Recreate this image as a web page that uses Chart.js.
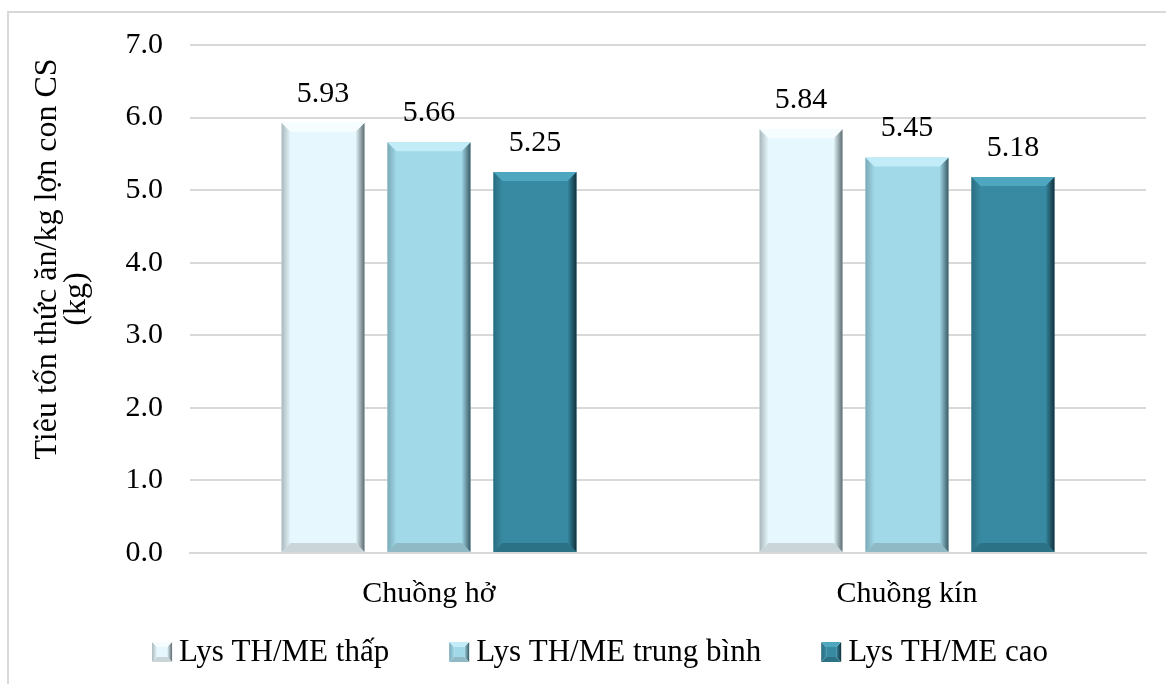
<!DOCTYPE html>
<html>
<head>
<meta charset="utf-8">
<script src="https://cdn.jsdelivr.net/npm/chart.js@4/dist/chart.umd.min.js"></script>
<style>
  html, body { margin: 0; padding: 0; background: #fff; overflow: hidden; }
  #khung { position: absolute; left: 7px; top: 11px; width: 1200px; height: 700px; border: 2px solid #d9d9d9; box-sizing: border-box; }
  #wrap { position: absolute; left: 0; top: 0; width: 1166px; height: 684px; }
</style>
</head>
<body>
<div id="khung"></div>
<div id="wrap"><canvas id="bieuDo" width="1166" height="684"></canvas></div>
<script>
// du lieu
const nhomChuong = ['Chuồng hở', 'Chuồng kín'];
const tenMuc = ['Lys TH/ME thấp', 'Lys TH/ME trung bình', 'Lys TH/ME cao'];
const giaTriThap = [5.93, 5.84];
const giaTriTrungBinh = [5.66, 5.45];
const giaTriCao = [5.25, 5.18];
const tieuDeTrucY = ['Tiêu tốn thức ăn/kg lợn con CS', '(kg)'];

// mau: than, canh tren, canh trai, canh phai, canh duoi
const mauBar = [
  { body: '#e6f8fd', top: '#f6fdff', left: '#a9b7bb', right: '#5d6b70', bottom: '#c9d5d8' },
  { body: '#a1d9e9', top: '#c2ecf7', left: '#7aa9b7', right: '#3a5a64', bottom: '#8fb9c4' },
  { body: '#378aa2', top: '#4ea7bf', left: '#2b6d80', right: '#12313b', bottom: '#2c7286' }
];

const fontChu = "'Liberation Serif', 'Times New Roman', serif";

// ve hinh chu nhat co canh vat
function veHopVat(ctx, l, t, r, b, e, m) {
  const poly = (pts, fill) => {
    ctx.beginPath();
    ctx.moveTo(pts[0][0], pts[0][1]);
    for (let k = 1; k < pts.length; k++) ctx.lineTo(pts[k][0], pts[k][1]);
    ctx.closePath();
    ctx.fillStyle = fill;
    ctx.fill();
  };
  const gL = ctx.createLinearGradient(l, 0, l + e, 0);
  gL.addColorStop(0, m.left); gL.addColorStop(1, m.body);
  const gR = ctx.createLinearGradient(r - e, 0, r, 0);
  gR.addColorStop(0, m.body); gR.addColorStop(1, m.right);
  poly([[l, t], [l + e, t + e], [l + e, b - e], [l, b]], gL);
  poly([[r, t], [r - e, t + e], [r - e, b - e], [r, b]], gR);
  poly([[l, t], [r, t], [r - e, t + e], [l + e, t + e]], m.top);
  poly([[l, b], [r, b], [r - e, b - e], [l + e, b - e]], m.bottom);
}

const bevelPlugin = {
  id: 'bevel',
  afterDatasetsDraw(chart) {
    const ctx = chart.ctx;
    chart.data.datasets.forEach((ds, i) => {
      chart.getDatasetMeta(i).data.forEach(bar => {
        ctx.save();
        veHopVat(ctx, bar.x - bar.width / 2, bar.y, bar.x + bar.width / 2, bar.base, 9, mauBar[i]);
        ctx.restore();
      });
    });
  }
};

// nhan gia tri tren dau cot
const nhanPlugin = {
  id: 'nhanGiaTri',
  afterDatasetsDraw(chart) {
    const ctx = chart.ctx;
    ctx.save();
    ctx.font = '30px ' + fontChu;
    ctx.fillStyle = '#000';
    ctx.textAlign = 'center';
    ctx.textBaseline = 'bottom';
    chart.data.datasets.forEach((ds, i) => {
      chart.getDatasetMeta(i).data.forEach((bar, j) => {
        ctx.fillText(ds.data[j].toFixed(2), bar.x, bar.y - 14);
      });
    });
    ctx.restore();
  }
};

// chu giai ben duoi
const chuGiaiPlugin = {
  id: 'chuGiai',
  afterDraw(chart) {
    const ctx = chart.ctx;
    ctx.save();
    ctx.font = '31px ' + fontChu;
    const hop = 20, cach = 7, khoang = 60;
    const rong = chart.data.datasets.map(ds => hop + cach + ctx.measureText(ds.label).width);
    const tong = rong.reduce((a, b) => a + b, 0) + khoang * (rong.length - 1);
    let x = 600 - tong / 2;
    const yGiua = 652;
    ctx.textBaseline = 'middle';
    ctx.fillStyle = '#000';
    chart.data.datasets.forEach((ds, i) => {
      veHopVat(ctx, x, yGiua - 10, x + hop, yGiua + 10, 5, mauBar[i]);
      ctx.fillStyle = mauBar[i].body;
      ctx.fillRect(x + 5, yGiua - 5, hop - 10, 10);
      ctx.fillStyle = '#000';
      ctx.fillText(ds.label, x + hop + cach, yGiua + 1);
      x += rong[i] + khoang;
    });
    ctx.restore();
  }
};

const dsGiaTri = [giaTriThap, giaTriTrungBinh, giaTriCao];

new Chart(document.getElementById('bieuDo'), {
  type: 'bar',
  data: {
    labels: nhomChuong,
    datasets: tenMuc.map((ten, i) => ({
      label: ten,
      data: dsGiaTri[i],
      backgroundColor: mauBar[i].body,
      borderWidth: 0,
      barPercentage: 0.783,
      categoryPercentage: 0.665
    }))
  },
  options: {
    responsive: false,
    animation: false,
    layout: { padding: { left: 0, right: 20, top: 39, bottom: 58 } },
    plugins: {
      tooltip: { enabled: false },
      legend: { display: false }
    },
    scales: {
      x: {
        grid: { display: false },
        border: { color: '#d9d9d9', width: 2 },
        ticks: { font: { family: fontChu, size: 30 }, color: '#000', padding: 15 },
        afterFit(scale) { scale.height = 73; }
      },
      y: {
        min: 0,
        max: 7,
        ticks: {
          stepSize: 1,
          font: { family: fontChu, size: 30 },
          color: '#000',
          padding: 27,
          callback: v => v.toFixed(1)
        },
        grid: { color: '#d9d9d9', lineWidth: 2, drawTicks: false },
        border: { display: false },
        title: {
          display: true,
          text: ['\u00A0'.repeat(10) + tieuDeTrucY[0], tieuDeTrucY[1]],
          font: { family: fontChu, size: 32, lineHeight: 0.9 },
          color: '#000',
          padding: { top: 33, bottom: 0 }
        },
        afterFit(scale) { scale.width = 190; }
      }
    }
  },
  plugins: [bevelPlugin, nhanPlugin, chuGiaiPlugin]
});
</script>
</body>
</html>
